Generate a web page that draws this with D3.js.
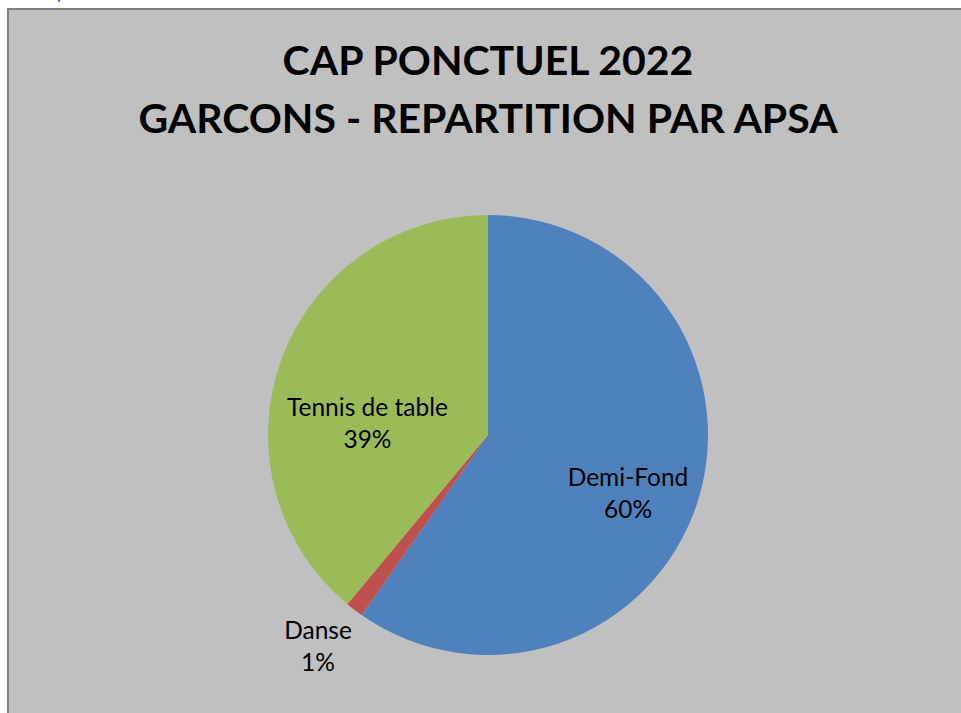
<!DOCTYPE html>
<html>
<head>
<meta charset="utf-8">
<script src="https://d3js.org/d3.v7.min.js"></script>
<style>
  html, body { margin: 0; padding: 0; background: #fff; }
  svg { display: block; }
  .title { font-family: Lato, "Open Sans", sans-serif; font-weight: bold; fill: #000; text-anchor: middle; }
  .lbl { font-family: Lato, "Open Sans", sans-serif; fill: #000; text-anchor: middle; font-size: 24.5px; }
</style>
</head>
<body>
<div id="chart"></div>
<script>
// data
var categories = ["Demi-Fond", "Danse", "Tennis de table"];
var counts = [46, 1, 30];
var colors = ["#4F81BD", "#C0504D", "#9BBB59"];
var titleLines = ["CAP PONCTUEL 2022", "GARCONS - REPARTITION PAR APSA"];

var width = 961, height = 713;
var cx = 488, cy = 435, radius = 220;

var svg = d3.select("#chart").append("svg")
  .attr("width", width)
  .attr("height", height);

// chart area
svg.append("rect")
  .attr("x", 8).attr("y", 9)
  .attr("width", width + 10).attr("height", height + 10)
  .attr("fill", "#C0C0C0")
  .attr("stroke", "#808080")
  .attr("stroke-width", 2);

// clipped bit of text above the chart (cut off in the original too)
svg.append("text")
  .attr("x", 55).attr("y", -1)
  .attr("font-family", "Lato, sans-serif")
  .attr("font-size", 20)
  .attr("fill", "#2E6BC6")
  .text("y");

svg.selectAll(".title")
  .data(titleLines)
  .enter().append("text")
  .attr("class", "title")
  .attr("x", cx)
  .attr("y", (d, i) => 75 + i * 58)
  .attr("font-size", 41)
  .text(d => d);

var total = d3.sum(counts);
var data = categories.map((c, i) => ({ name: c, value: counts[i], color: colors[i] }));

var pie = d3.pie().sort(null).value(d => d.value);
var arc = d3.arc().innerRadius(0).outerRadius(radius);
var arcs = pie(data);

var g = svg.append("g").attr("transform", "translate(" + cx + "," + cy + ")");

g.selectAll("path")
  .data(arcs)
  .enter().append("path")
  .attr("d", arc)
  .attr("fill", d => d.data.color);

// label placement: radius and small nudges per slice
var labelRadius = [150, 270, 125];
var labelNudge = [[-3, 14], [-6, -2], [-3, 31]];

arcs.forEach(function (d, i) {
  var la = d3.arc().innerRadius(labelRadius[i]).outerRadius(labelRadius[i]);
  var p = la.centroid(d);
  var x = p[0] + labelNudge[i][0], y = p[1] + labelNudge[i][1];
  var t = g.append("text").attr("class", "lbl");
  t.append("tspan").attr("x", x).attr("y", y - 8).text(d.data.name);
  t.append("tspan").attr("x", x).attr("y", y + 24)
    .text(Math.round(d.data.value / total * 100) + "%");
});
</script>
</body>
</html>
